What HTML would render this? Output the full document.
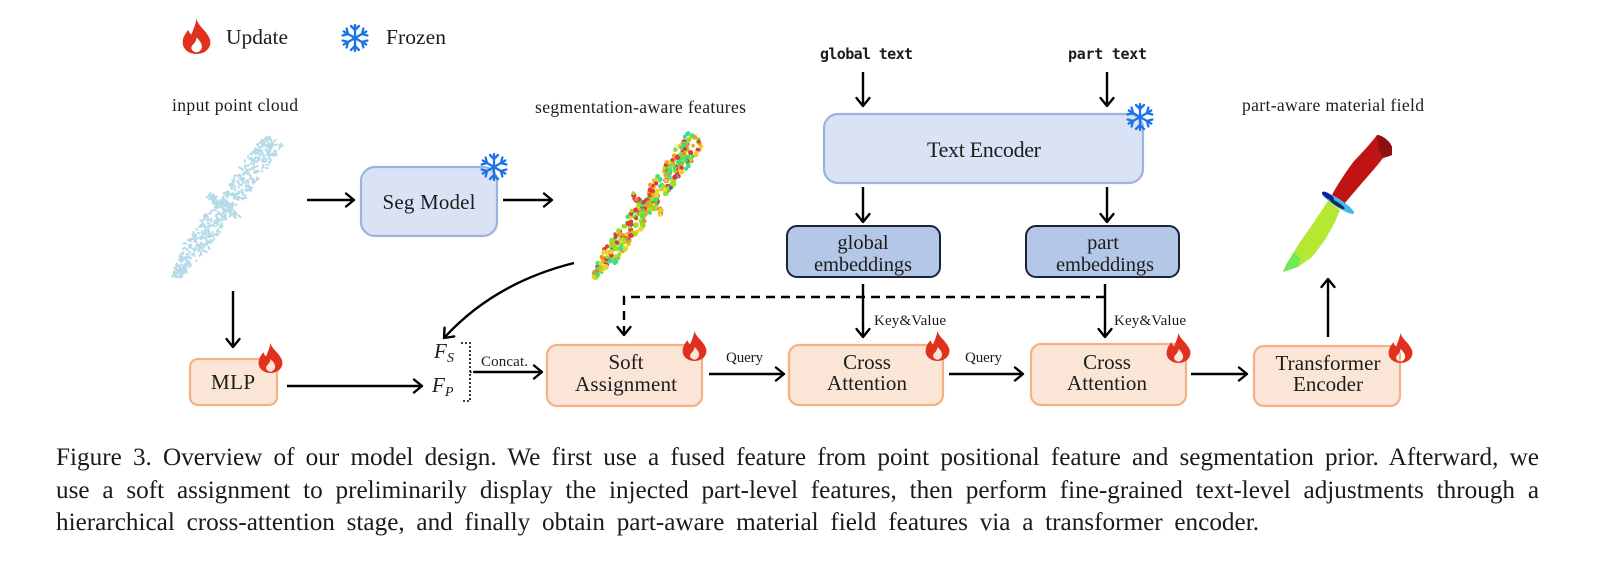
<!DOCTYPE html>
<html><head><meta charset="utf-8">
<style>
html,body{margin:0;padding:0;background:#fff;width:1598px;height:568px;overflow:hidden}
svg{position:absolute;left:0;top:0}
text{font-family:"Liberation Serif",serif;fill:#1c1c1c}
.c{position:absolute;left:56px;white-space:nowrap;font-family:"Liberation Serif",serif;font-size:25.2px;line-height:28px;height:28px;color:#1a1a1a;text-align:justify;text-align-last:justify}
</style></head><body>
<svg width="1598" height="568" viewBox="0 0 1598 568" xmlns="http://www.w3.org/2000/svg">
<defs>
<marker id="a" markerUnits="userSpaceOnUse" markerWidth="24" markerHeight="24" refX="12" refY="12" orient="auto" overflow="visible">
<path d="M4,5.5 L12,12 L4,18.5" fill="none" stroke="#000" stroke-width="2.4" stroke-linecap="round" stroke-linejoin="round"/>
</marker>
<symbol id="fl" viewBox="0 0 28 36" preserveAspectRatio="none">
<path fill="#e0301e" fill-rule="evenodd" d="M14,0 C16,8 24,12 27,21 C29,30 22,36 14,36 C6,36 -1,30 1,21 C2,16 5,13 6,11 C7,14 8,15 9,16 C11,11 13,6 14,0 Z M14,34.5 C9,33 8,30 10,27 C12,25 14,22 14,19 C17,22 20,26 19,30 C18,33 16,34 14,34.5 Z"/>
</symbol>
<g id="sn" fill="none" stroke="#1a73e8" stroke-width="2.3" stroke-linecap="round" stroke-linejoin="round">
<g id="sn1"><path d="M0,-13 V13"/><path d="M-4,-12 L0,-8 L4,-12"/><path d="M-4,12 L0,8 L4,12"/></g>
<use href="#sn1" transform="rotate(60)"/>
<use href="#sn1" transform="rotate(120)"/>
</g>
</defs>

<!-- legend -->
<use href="#fl" x="182" y="19" width="29" height="35"/>
<text x="226" y="44" font-size="21.5" textLength="62">Update</text>
<use href="#sn" transform="translate(355,38)"/>
<text x="386" y="44" font-size="21.5" textLength="60">Frozen</text>

<!-- titles -->
<text x="172" y="111" font-size="17.6" textLength="126">input point cloud</text>
<text x="535" y="113" font-size="17.6" textLength="211">segmentation-aware features</text>
<text x="1242" y="111" font-size="17.6" textLength="182">part-aware material field</text>
<text x="820" y="59" textLength="93" font-size="15" font-weight="bold" style="font-family:'DejaVu Sans Mono',monospace">global text</text>
<text x="1068" y="59" textLength="79" font-size="15" font-weight="bold" style="font-family:'DejaVu Sans Mono',monospace">part text</text>

<!-- clouds (filled by script) -->
<g id="cloud1" fill="none" stroke="#b5dbe8" stroke-width="1.9" stroke-linecap="round"></g>
<g id="cloud2" stroke="none"></g>

<!-- knife -->
<path d="M1328,201 L1340,210 L1335,222 L1325,240 L1312,257 L1298,267 L1283,272 L1286,265 L1298,245 L1312,225 Z" fill="#b4e832"/>
<path d="M1283,272 L1286,265 L1294,252 L1300,258 L1298,267 Z" fill="#6fe85a"/>
<path d="M1333,193 C1338,184 1349,167 1355,160 C1360,155 1372,142 1377,135 C1382,135 1390,141 1392,147 L1392,155 C1388,157 1385,157 1383,158 C1378,165 1368,176 1362,183 L1350,197 L1345,203 L1330,200 Z" fill="#c01414"/>
<path d="M1377,135 C1382,135 1390,141 1392,147 L1392,155 L1383,158 L1379,150 Z" fill="#8f1010"/>
<ellipse cx="1338" cy="203" rx="19" ry="4" transform="rotate(33 1338 203)" fill="#45b8f0"/>
<ellipse cx="1328" cy="196" rx="7" ry="2.6" transform="rotate(33 1328 196)" fill="#10209a"/>
<ellipse cx="1337" cy="204" rx="9" ry="2" transform="rotate(33 1337 204)" fill="#103050"/>

<!-- boxes -->
<g stroke="#9db3dd" stroke-width="2.2" fill="#d9e3f5">
<rect x="361" y="167" width="136" height="69" rx="14"/>
<rect x="824" y="114" width="319" height="69" rx="14"/>
</g>
<g stroke="#1a2238" stroke-width="2" fill="#b4c7e7">
<rect x="787" y="226" width="153" height="51" rx="10"/>
<rect x="1026" y="226" width="153" height="51" rx="10"/>
</g>
<g stroke="#f4b183" stroke-width="2.2" fill="#fbe5d6">
<rect x="190" y="359" width="87" height="46" rx="8"/>
<rect x="547" y="345" width="155" height="61" rx="10"/>
<rect x="789" y="345" width="154" height="60" rx="10"/>
<rect x="1031" y="344" width="155" height="61" rx="10"/>
<rect x="1254" y="346" width="146" height="60" rx="10"/>
</g>

<!-- box text -->
<g text-anchor="middle" font-size="21">
<text x="429" y="209" textLength="93">Seg Model</text>
<text x="984" y="157" textLength="114" font-size="22">Text Encoder</text>
<text x="863" y="249" font-size="20.5">global</text>
<text x="863" y="271" font-size="20.5" textLength="98">embeddings</text>
<text x="1103" y="249" font-size="20.5">part</text>
<text x="1105" y="271" font-size="20.5" textLength="98">embeddings</text>
<text x="233" y="389" textLength="44">MLP</text>
<text x="626" y="369">Soft</text>
<text x="626" y="391" textLength="102">Assignment</text>
<text x="867" y="369">Cross</text>
<text x="867" y="390" textLength="80">Attention</text>
<text x="1107" y="369">Cross</text>
<text x="1107" y="390" textLength="80">Attention</text>
<text x="1328" y="370" textLength="105">Transformer</text>
<text x="1328" y="391">Encoder</text>
</g>

<!-- small labels -->
<g font-size="15">
<text x="874" y="325" textLength="72">Key&amp;Value</text>
<text x="1114" y="325" textLength="72">Key&amp;Value</text>
<text x="726" y="362" textLength="37">Query</text>
<text x="965" y="362" textLength="37">Query</text>
<text x="481" y="366" textLength="47">Concat.</text>
</g>
<text x="434" y="358" font-size="21" font-style="italic">F</text>
<text x="447" y="362" font-size="14" font-style="italic">S</text>
<text x="432" y="392" font-size="21" font-style="italic">F</text>
<text x="445" y="396" font-size="14" font-style="italic">P</text>

<!-- bracket -->
<path d="M461,343 H470 V401 H461" fill="none" stroke="#222" stroke-width="1.8" stroke-dasharray="2 2"/>

<!-- arrows -->
<g fill="none" stroke="#000" stroke-width="2.4">
<path d="M307,200 H354" marker-end="url(#a)"/>
<path d="M503,200 H552" marker-end="url(#a)"/>
<path d="M233,291 V347" marker-end="url(#a)"/>
<path d="M287,386 H422" marker-end="url(#a)"/>
<path d="M474,372 H542" marker-end="url(#a)"/>
<path d="M574,263 Q494,283 444,338" marker-end="url(#a)"/>
<path d="M863,72 V106" marker-end="url(#a)"/>
<path d="M1107,72 V106" marker-end="url(#a)"/>
<path d="M863,187 V222" marker-end="url(#a)"/>
<path d="M1107,187 V222" marker-end="url(#a)"/>
<path d="M863,284 V337" marker-end="url(#a)"/>
<path d="M1105,284 V337" marker-end="url(#a)"/>
<path d="M709,374 H784" marker-end="url(#a)"/>
<path d="M949,374 H1023" marker-end="url(#a)"/>
<path d="M1191,374 H1247" marker-end="url(#a)"/>
<path d="M1328,337 V279" marker-end="url(#a)"/>
<path d="M1105,297 H624 V335" stroke-dasharray="9 6" marker-end="url(#a)"/>
</g>
<path d="M470,372 H474" stroke="#000" stroke-width="2" stroke-dasharray="1.5 1.5"/>

<!-- icons on boxes -->
<use href="#sn" transform="translate(494,167)"/>
<use href="#sn" transform="translate(1140,117)"/>
<use href="#fl" x="258" y="343" width="25" height="30"/>
<use href="#fl" x="682" y="331" width="25" height="30"/>
<use href="#fl" x="925" y="331" width="25" height="30"/>
<use href="#fl" x="1166" y="333" width="25" height="30"/>
<use href="#fl" x="1388" y="333" width="25" height="30"/>
</svg>

<div class="c" style="top:444px;width:1483px">Figure 3. Overview of our model design. We first use a fused feature from point positional feature and segmentation prior. Afterward, we</div>
<div class="c" style="top:477px;width:1483px">use a soft assignment to preliminarily display the injected part-level features, then perform fine-grained text-level adjustments through a</div>
<div class="c" style="top:509px;width:1203px">hierarchical cross-attention stage, and finally obtain part-aware material field features via a transformer encoder.</div>

<script>
(function(){
var seed=12345;function R(){seed=(seed*16807)%2147483647;return seed/2147483647;}
var NS="http://www.w3.org/2000/svg";
function el(n,a,p){var e=document.createElementNS(NS,n);for(var k in a)e.setAttribute(k,a[k]);p.appendChild(e);}
function width(t,base){
  var w=base;
  if(t<.14)w=base*(.25+.75*t/.14);
  if(t>.45&&t<.6)w=base*.75;
  return w;
}
// input cloud
var g1=document.getElementById("cloud1");
var ax=175,ay=277,bx=274,by=139,dx=bx-ax,dy=by-ay,L=Math.sqrt(dx*dx+dy*dy),nx=-dy/L,ny=dx/L;
function stroke(x,y){var a=R()*6.28,l=1+R()*1.8;el("line",{x1:x.toFixed(1),y1:y.toFixed(1),x2:(x+Math.cos(a)*l).toFixed(1),y2:(y+Math.sin(a)*l).toFixed(1)},g1);}
for(var i=0;i<480;i++){
  var t=R(),s=(R()*2-1);
  var w=width(t,10.5);
  stroke(ax+dx*t+nx*s*w,ay+dy*t+ny*s*w);
}
for(i=0;i<70;i++){
  var u=R(),v=(R()*2-1)*(4-2.5*Math.abs(u-.5));
  stroke(208+32*u+v*.5,195+23*u-v*.7);
}
// seg cloud
var g2=document.getElementById("cloud2");
var cols=["#8fe02a","#8fe02a","#a8e020","#f2d21e","#f2d21e","#f2a020","#f28a22","#e23a3f","#e2304a","#3fe070","#3fe070","#40d8a0"];
var ax2=594,ay2=277,bx2=697,by2=138,dx2=bx2-ax2,dy2=by2-ay2,L2=Math.sqrt(dx2*dx2+dy2*dy2),nx2=-dy2/L2,ny2=dx2/L2;
function dot(x,y,c){el("circle",{cx:x.toFixed(1),cy:y.toFixed(1),r:(1.8+R()*.8).toFixed(1),fill:c},g2);}
for(i=0;i<380;i++){
  t=R();s=(R()*2-1);
  w=width(t,8+3*t);
  var c=R()<.015?"#3060c0":cols[Math.floor(R()*cols.length)];
  dot(ax2+dx2*t+nx2*s*w,ay2+dy2*t+ny2*s*w,c);
}
for(i=0;i<26;i++){
  u=R();v=(R()*2-1)*3;
  dot(632+30*u+v*.5,195+18*u-v*.7,cols[Math.floor(R()*cols.length)]);
}
})();
</script>
</body></html>
